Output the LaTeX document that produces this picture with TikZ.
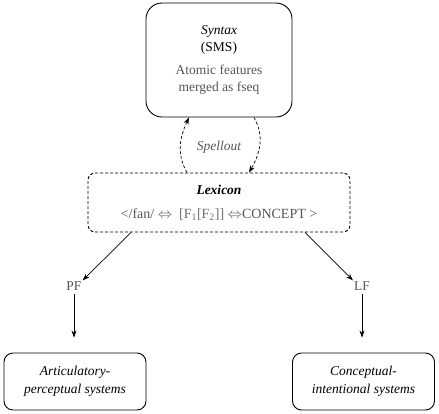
\documentclass[tikz,border=0pt]{standalone}
\usepackage{fontspec}
\setmainfont{Liberation Serif}
\usepackage{tikz}
\usetikzlibrary{arrows.meta, positioning}
\definecolor{textgray}{RGB}{85, 85, 85}
\definecolor{lightgray}{RGB}{110, 110, 110}

\begin{document}
\begin{tikzpicture}[
    x=1pt, y=-1pt,
    font=\fontsize{13.5}{17}\selectfont,
    box/.style={
        rectangle,
        rounded corners=9pt,
        draw=black,
        line width=0.9pt,
        inner sep=0pt,
        align=center
    },
    syntaxbox/.style={
        box,
        rounded corners=16pt,
        minimum width=146pt,
        minimum height=114pt
    },
    lexbox/.style={
        box,
        dash pattern=on 3pt off 2pt,
        rounded corners=7pt,
        minimum width=262pt,
        minimum height=59pt
    },
    systembox/.style={
        box,
        minimum width=142pt,
        minimum height=57pt,
        font=\fontsize{13.5}{18}\selectfont\itshape
    },
    levellabel/.style={
        text=textgray,
        inner sep=1pt
    },
    arrow/.style={
        -{Stealth[length=7pt, width=5pt]},
        line width=0.7pt
    },
    dasharrow/.style={
        arrow,
        dash pattern=on 3pt off 2pt
    }
]
    \useasboundingbox (0,0) rectangle (439,413);

    % Top: narrow syntax
    \node[syntaxbox] (syntax) at (219,60) {
        \textit{Syntax} \\
        (SMS) \\[6pt]
        \textcolor{textgray}{Atomic features} \\
        \textcolor{textgray}{merged as fseq}
    };

    % Middle: lexicon
    \node[lexbox] (lexicon) at (219,202.5) {
        \textbf{\textit{Lexicon}} \\[7pt]
        \textcolor{textgray}{\fontsize{14}{17}\selectfont </fan/ $\Leftrightarrow$\enspace\textcolor{lightgray}{[F\textsubscript{1}[F\textsubscript{2}]]} $\Leftrightarrow$CONCEPT >}
    };

    % Interfaces
    \node[levellabel] (pf) at (74,286) {PF};
    \node[levellabel] (lf) at (362,286) {LF};

    % Bottom: performance systems
    \node[systembox] (artic) at (75,381.5) {Articulatory-\\perceptual systems};
    \node[systembox] (concept) at (363.5,381.5) {Conceptual-\\intentional systems};

    % Spellout loop
    \draw[dasharrow] ([xshift=-32pt]lexicon.north) to[out=120, in=-115] ([xshift=-30pt]syntax.south);
    \draw[dasharrow] ([xshift=35pt]syntax.south) to[out=-60, in=60] ([xshift=30pt]lexicon.north);
    \node[text=textgray, font=\fontsize{13.5}{14}\selectfont\itshape] (spellout) at (219,147) {Spellout};

    % Arrows
    \draw[arrow] ([xshift=-88pt]lexicon.south) -- (pf.north east);
    \draw[arrow] ([xshift=86pt]lexicon.south) -- (lf.north west);
    \draw[arrow] (pf.south) ++(0,2) -- ([yshift=15pt]pf.south |- artic.north);
    \draw[arrow] (lf.south) ++(0,2) -- ([yshift=15pt]lf.south |- concept.north);

\end{tikzpicture}
\end{document}
